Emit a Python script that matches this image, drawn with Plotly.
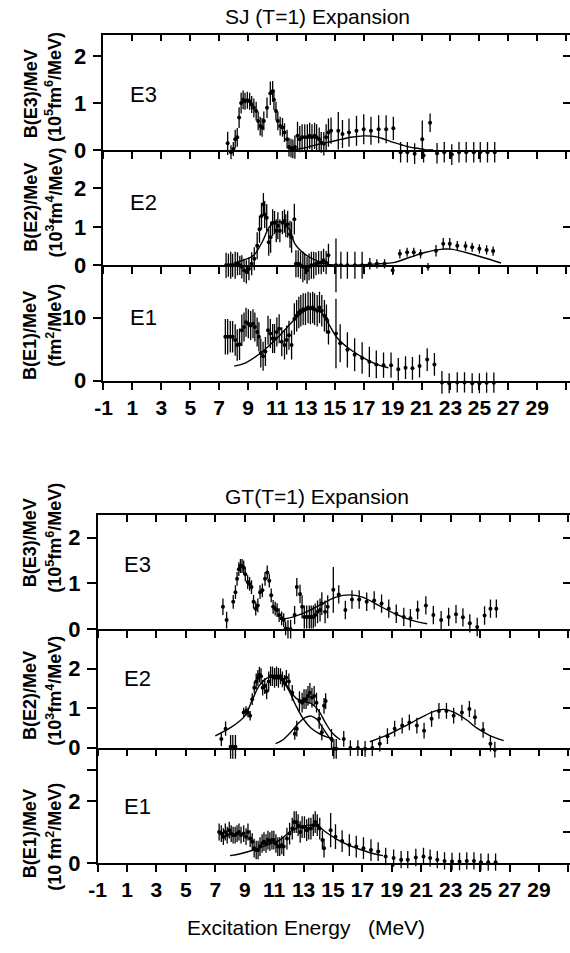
import plotly.graph_objects as go

# ---------------- data ----------------
# SJ (T=1) expansion, E3
sj_e3_E = [7.59, 7.82, 7.98, 8.11, 8.25, 8.38, 8.52, 8.66, 8.79, 8.95,
           9.11, 9.25, 9.40, 9.56, 9.70, 9.84, 9.97, 10.09, 10.31, 10.54,
           10.70, 10.79, 10.93, 11.06, 11.22, 11.38, 11.52, 11.70, 11.83, 11.97,
           12.10, 12.24, 12.42, 12.58, 12.74, 12.92, 13.10, 13.26, 13.42, 13.60,
           13.74, 13.92, 14.06, 14.24, 14.40, 14.56, 14.74, 15.24, 15.53, 15.98,
           16.50, 17.00, 17.50, 18.03, 18.55, 19.05, 19.55, 20.02, 20.52, 21.05,
           21.14, 21.59, 22.07, 22.57, 23.09, 23.59, 24.09, 24.61, 25.06, 25.56, 26.06]
sj_e3_B = [0.14, -0.05, 0.02, 0.23, 0.27, 0.69, 1.00, 1.07, 1.04, 1.06,
           1.04, 0.97, 0.90, 0.83, 0.62, 0.51, 0.48, 0.62, 0.90, 1.21,
           1.25, 1.07, 0.83, 0.62, 0.51, 0.48, 0.37, 0.23, 0.06, 0.04,
           0.02, 0.06, 0.30, 0.23, 0.27, 0.27, 0.27, 0.30, 0.27, 0.30,
           0.27, 0.23, 0.16, 0.13, 0.27, 0.37, 0.41, 0.41, 0.34, 0.37,
           0.41, 0.44, 0.41, 0.44, 0.44, 0.46, -0.05, -0.05, -0.08, 0.23,
           -0.12, 0.58, -0.07, -0.05, -0.10, -0.05, -0.05, -0.05, -0.05, -0.05, -0.05]
sj_e3_err = [0.25, 0.15, 0.15, 0.2, 0.2, 0.22, 0.22, 0.2, 0.18, 0.18,
             0.18, 0.18, 0.2, 0.2, 0.2, 0.2, 0.2, 0.2, 0.22, 0.25,
             0.22, 0.22, 0.2, 0.2, 0.2, 0.2, 0.2, 0.2, 0.2, 0.2,
             0.2, 0.25, 0.3, 0.28, 0.28, 0.28, 0.28, 0.28, 0.28, 0.28,
             0.28, 0.25, 0.22, 0.25, 0.28, 0.3, 0.28, 0.4, 0.3, 0.3,
             0.32, 0.32, 0.3, 0.3, 0.3, 0.25, 0.22, 0.22, 0.22, 0.4,
             0.15, 0.2, 0.22, 0.22, 0.22, 0.22, 0.22, 0.22, 0.22, 0.22, 0.22]
sj_e3_fitE = [12.0, 13.0, 14.0, 14.5, 15.5, 16.1, 17.0, 17.9, 18.5, 19.05, 19.6, 20.2, 20.8, 21.3, 21.8]
sj_e3_fitB = [0.0, 0.05, 0.13, 0.16, 0.23, 0.27, 0.30, 0.28, 0.22, 0.16, 0.11, 0.06, 0.03, 0.0, 0.0]

# SJ, E2
sj_e2_E = [7.48, 7.64, 7.80, 7.93, 8.11, 8.27, 8.43, 8.57, 8.72, 8.88,
           9.06, 9.25, 9.43, 9.63, 9.79, 9.93, 10.06, 10.15, 10.29, 10.43,
           10.56, 10.70, 10.83, 10.95, 11.06, 11.20, 11.38, 11.52, 11.61, 11.74,
           11.90, 12.01, 12.20, 12.31, 12.47, 12.63, 12.79, 12.92, 13.08, 13.22,
           13.38, 13.54, 13.70, 13.88, 14.06, 14.22, 14.40, 14.56, 15.08, 15.42,
           15.87, 16.39, 16.89, 17.42, 17.91, 18.44, 19.00, 19.50, 20.00, 20.46,
           20.93, 21.45, 22.00, 22.50, 22.95, 23.47, 24.04, 24.50, 25.00, 25.50, 25.95]
sj_e2_B = [0, 0, 0, 0, 0, 0.04, 0, -0.04, -0.13, -0.17,
           -0.09, 0.04, 0.17, 0.51, 0.94, 1.28, 1.58, 1.32, 1.24, 0.60,
           0.73, 1.11, 1.11, 0.90, 1.03, 0.90, 1.11, 1.15, 1.03, 1.07,
           0.81, 0.73, 1.20, 0.04, 0.04, 0, -0.04, -0.04, -0.13, -0.04,
           0, 0, 0.04, 0.07, 0.07, 0.13, 0.07, 0.26, 0, 0,
           0, 0, 0, 0.04, 0.04, 0.04, -0.13, 0.30, 0.34, 0.34,
           0.30, -0.04, 0.38, 0.56, 0.56, 0.51, 0.50, 0.47, 0.43, 0.40, 0.37]
sj_e2_err = [0.33, 0.3, 0.35, 0.3, 0.35, 0.3, 0.25, 0.3, 0.3, 0.3,
             0.3, 0.3, 0.3, 0.35, 0.35, 0.35, 0.3, 0.35, 0.35, 0.35,
             0.4, 0.35, 0.3, 0.3, 0.35, 0.3, 0.3, 0.3, 0.3, 0.35,
             0.35, 0.4, 0.4, 0.35, 0.35, 0.35, 0.4, 0.35, 0.35, 0.35,
             0.35, 0.35, 0.3, 0.3, 0.3, 0.3, 0.3, 0.3, 0.7, 0.35,
             0.35, 0.35, 0.35, 0.15, 0.12, 0.12, 0.12, 0.12, 0.12, 0.12,
             0.12, 0.1, 0.15, 0.15, 0.15, 0.12, 0.12, 0.12, 0.12, 0.12, 0.12]
sj_e2_fitE = [8.0, 8.4, 9.0, 9.4, 9.97, 10.54, 11.1, 11.5, 11.9, 12.24, 12.7, 13.26, 13.94, 14.5,
              16.0, 18.1, 19.05, 20.2, 21.3, 22.45, 23.0, 24.0, 25.2, 26.5]
sj_e2_fitB = [0.05, 0.10, 0.18, 0.26, 0.60, 1.03, 1.13, 1.10, 0.90, 0.56, 0.36, 0.21, 0.09, 0.02,
              0.0, 0.04, 0.07, 0.21, 0.34, 0.42, 0.42, 0.34, 0.21, 0.06]

# SJ, E1
sj_e1_E = [7.43, 7.59, 7.77, 7.93, 8.11, 8.25, 8.41, 8.57, 8.72, 8.86,
           9.02, 9.18, 9.34, 9.47, 9.63, 9.75, 9.88, 10.04, 10.20, 10.38,
           10.54, 10.70, 10.83, 10.99, 11.15, 11.33, 11.52, 11.67, 11.83, 12.01,
           12.20, 12.36, 12.51, 12.65, 12.81, 12.97, 13.15, 13.31, 13.47, 13.60,
           13.78, 13.94, 14.10, 14.28, 14.42, 14.56, 15.08, 15.37, 15.87, 16.37,
           16.89, 17.39, 17.87, 18.37, 18.89, 19.39, 19.89, 20.37, 20.86, 21.39,
           21.89, 22.41, 22.91, 23.47, 23.97, 24.50, 25.00, 25.50, 26.00]
sj_e1_B = [6.96, 6.96, 6.96, 6.96, 6.44, 5.67, 5.77, 7.99, 8.5, 9.28,
           9.02, 8.76, 9.02, 8.5, 7.73, 6.96, 4.38, 3.87, 4.64, 7.99,
           7.47, 6.7, 6.7, 7.73, 8.25, 6.19, 5.67, 6.44, 7.22, 5.67,
           9.79, 10.3, 10.82, 11.08, 11.34, 11.34, 11.6, 11.44, 11.6, 11.34,
           11.08, 11.6, 11.08, 10.3, 9.79, 7.73, 7.47, 5.93, 4.9, 4.12,
           3.61, 2.99, 2.58, 2.47, 2.47, 1.8, 2.06, 1.96, 2.32, 3.35,
           2.58, -0.26, -0.4, -0.26, -0.26, -0.4, -0.4, -0.3, -0.3]
sj_e1_err = [2.8, 2.8, 2.5, 2.5, 2.5, 2.5, 2.5, 2.5, 2.3, 2.3,
             2.3, 2.3, 2.3, 2.3, 2.3, 2.3, 2.3, 2.3, 2.3, 2.3,
             2.3, 2.3, 2.3, 2.3, 2.3, 2.3, 2.3, 2.3, 2.3, 2.3,
             2.5, 2.5, 2.5, 2.5, 2.5, 2.5, 2.5, 2.5, 2.5, 2.5,
             2.5, 2.5, 2.5, 2.5, 2.3, 2.0, 5.5, 3.0, 2.8, 2.6,
             2.5, 2.4, 2.2, 2.0, 2.0, 1.8, 1.8, 1.8, 1.8, 1.8,
             1.8, 1.8, 1.6, 1.6, 1.6, 1.6, 1.6, 1.6, 1.6]
sj_e1_fitE = [8.04, 8.84, 10.0, 11.1, 12.24, 12.92, 13.5, 14.06, 14.5, 15.2, 16.1, 17.2, 18.1, 18.7]
sj_e1_fitB = [2.32, 2.84, 4.64, 6.96, 9.79, 11.08, 11.44, 10.82, 9.28, 6.7, 4.9, 3.35, 2.42, 2.06]

# GT (T=1) expansion, E3
gt_e3_E = [7.52, 7.77, 8.22, 8.37, 8.48, 8.60, 8.71, 8.82, 8.93, 9.04,
           9.20, 9.33, 9.46, 9.60, 9.75, 9.89, 10.04, 10.20, 10.38, 10.53,
           10.67, 10.80, 10.93, 11.07, 11.20, 11.34, 11.51, 11.65, 11.78, 11.94,
           12.12, 12.39, 12.54, 12.76, 12.90, 13.05, 13.21, 13.39, 13.52, 13.66,
           13.79, 13.95, 14.12, 14.24, 14.46, 14.64, 15.02, 15.39, 15.84, 16.29,
           16.78, 17.29, 17.80, 18.30, 18.79, 19.30, 19.81, 20.26, 20.75, 21.31,
           21.82, 22.35, 22.86, 23.36, 23.83, 24.30, 24.80, 25.30, 25.70, 26.10]
gt_e3_B = [0.49, 0.2, 0.6, 0.81, 1.1, 1.31, 1.38, 1.38, 1.35, 1.2,
           1.03, 0.99, 0.92, 0.6, 0.45, 0.52, 0.81, 0.85, 1.1, 1.24,
           1.06, 0.74, 0.49, 0.45, 0.42, 0.31, 0.24, 0.2, 0.02, 0.0,
           0.0, 0.31, 0.92, 0.77, 0.49, 0.27, 0.27, 0.27, 0.27, 0.27,
           0.31, 0.38, 0.42, 0.56, 0.38, 0.49, 0.86, 0.76, 0.42, 0.65,
           0.65, 0.6, 0.63, 0.56, 0.45, 0.34, 0.27, 0.24, 0.42, 0.52,
           0.31, 0.2, 0.27, 0.33, 0.26, 0.13, 0.05, 0.3, 0.45, 0.45]
gt_e3_err = [0.18, 0.18, 0.15, 0.15, 0.15, 0.15, 0.15, 0.15, 0.15, 0.15,
             0.15, 0.15, 0.15, 0.15, 0.15, 0.15, 0.15, 0.15, 0.15, 0.15,
             0.15, 0.15, 0.15, 0.15, 0.15, 0.15, 0.15, 0.15, 0.15, 0.2,
             0.2, 0.2, 0.2, 0.2, 0.25, 0.25, 0.25, 0.25, 0.25, 0.25,
             0.25, 0.25, 0.25, 0.25, 0.25, 0.25, 0.5, 0.2, 0.2, 0.2,
             0.2, 0.2, 0.2, 0.2, 0.2, 0.2, 0.2, 0.2, 0.2, 0.2,
             0.2, 0.2, 0.2, 0.2, 0.2, 0.2, 0.2, 0.2, 0.2, 0.2]
gt_e3_fitE = [11.4, 12.05, 13.2, 14.3, 15.2, 16.1, 17.0, 18.1, 19.2, 20.3, 21.4]
gt_e3_fitB = [0.22, 0.25, 0.38, 0.56, 0.70, 0.75, 0.70, 0.52, 0.34, 0.20, 0.12]

# GT, E2
gt_e2_E = [7.41, 7.70, 8.04, 8.19, 8.37, 8.93, 9.09, 9.22, 9.37, 9.51,
           9.65, 9.78, 9.89, 10.00, 10.11, 10.22, 10.36, 10.49, 10.63, 10.76,
           10.89, 11.03, 11.16, 11.29, 11.43, 11.56, 11.70, 11.83, 12.00, 12.23,
           12.40, 12.54, 12.72, 12.90, 13.03, 13.17, 13.30, 13.43, 13.57, 13.72,
           13.88, 14.06, 14.24, 14.39, 14.50, 14.90, 15.06, 15.22, 15.73, 16.18,
           16.69, 17.18, 17.67, 18.18, 18.70, 19.19, 19.70, 20.19, 20.70, 21.19,
           21.70, 22.20, 22.71, 23.20, 23.76, 24.27, 24.65, 25.20, 25.70, 26.00]
gt_e2_B = [0.22, 0.48, 0.02, 0.02, 0.02, 0.89, 0.93, 0.89, 0.81, 1.23,
           1.52, 1.68, 1.77, 1.85, 1.81, 1.52, 1.56, 1.43, 1.68, 1.81,
           1.81, 1.77, 1.81, 1.77, 1.81, 1.73, 1.64, 1.77, 1.68, 1.39,
           0.35, 0.48, 1.18, 1.14, 1.23, 1.23, 1.31, 1.39, 1.27, 1.31,
           1.14, 0.73, 0.39, 1.06, 1.18, 0.22, -0.03, -0.03, 0.22, -0.01,
           -0.01, -0.03, -0.01, 0.1, 0.29, 0.48, 0.56, 0.64, 0.56, 0.43,
           0.73, 0.93, 0.93, 0.81, 0.89, 0.98, 0.77, 0.45, 0.1, -0.05]
gt_e2_err = [0.18, 0.18, 0.3, 0.3, 0.3, 0.12, 0.12, 0.12, 0.12, 0.15,
             0.15, 0.2, 0.2, 0.2, 0.2, 0.2, 0.2, 0.2, 0.25, 0.25,
             0.25, 0.25, 0.25, 0.25, 0.2, 0.2, 0.2, 0.2, 0.2, 0.2,
             0.15, 0.2, 0.25, 0.25, 0.25, 0.25, 0.25, 0.25, 0.25, 0.25,
             0.25, 0.25, 0.2, 0.2, 0.2, 0.25, 0.25, 0.25, 0.2, 0.2,
             0.2, 0.2, 0.2, 0.2, 0.2, 0.2, 0.2, 0.2, 0.2, 0.2,
             0.2, 0.2, 0.2, 0.2, 0.2, 0.2, 0.2, 0.2, 0.2, 0.2]
gt_e2_fit1E = [7.0, 8.0, 9.0, 9.5, 10.0, 10.5, 11.0, 11.5, 12.0, 12.5, 13.0, 13.5, 14.0, 14.5, 15.0]
gt_e2_fit1B = [0.30, 0.50, 0.80, 1.20, 1.58, 1.76, 1.80, 1.72, 1.45, 1.05, 0.72, 0.50, 0.37, 0.28, 0.22]
gt_e2_fit2E = [11.1, 11.6, 12.1, 12.6, 13.1, 13.5, 13.9, 14.3, 14.7, 15.0]
gt_e2_fit2B = [0.10, 0.20, 0.38, 0.60, 0.76, 0.80, 0.72, 0.50, 0.28, 0.15]
gt_e2_sumE = [11.0, 11.5, 12.0, 12.5, 13.0, 13.5, 14.0, 14.5, 15.0, 15.5]
gt_e2_sumB = [1.82, 1.75, 1.50, 1.25, 1.17, 1.12, 0.95, 0.62, 0.35, 0.20]
gt_e2_fit3E = [17.5, 18.74, 19.86, 20.97, 21.86, 22.53, 23.2, 24.09, 24.76, 25.6, 26.6]
gt_e2_fit3B = [0.15, 0.33, 0.54, 0.76, 0.92, 0.97, 0.90, 0.70, 0.50, 0.32, 0.18]

# GT, E1
gt_e1_E = [7.26, 7.41, 7.55, 7.68, 7.81, 7.95, 8.08, 8.21, 8.35, 8.48,
           8.61, 8.75, 8.93, 9.09, 9.22, 9.37, 9.51, 9.64, 9.78, 9.91,
           10.04, 10.18, 10.31, 10.45, 10.58, 10.71, 10.85, 10.98, 11.12, 11.25,
           11.38, 11.52, 11.65, 11.87, 12.05, 12.23, 12.36, 12.50, 12.63, 12.77,
           12.90, 13.06, 13.21, 13.35, 13.50, 13.66, 13.79, 13.93, 14.10, 14.28,
           14.39, 14.84, 15.17, 15.62, 16.11, 16.58, 17.07, 17.58, 18.07, 18.58,
           19.12, 19.63, 20.08, 20.63, 21.15, 21.60, 22.09, 22.58, 23.09, 23.60,
           24.09, 24.58, 25.05, 25.55, 26.05]
gt_e1_B = [1.0, 0.95, 0.85, 1.0, 0.9, 1.06, 0.95, 0.9, 0.9, 0.95,
           1.0, 0.9, 0.95, 0.85, 1.0, 0.79, 0.69, 0.48, 0.42, 0.42,
           0.53, 0.63, 0.69, 0.63, 0.74, 0.69, 0.74, 0.74, 0.63, 0.53,
           0.53, 0.58, 0.53, 0.79, 0.95, 1.11, 1.32, 1.32, 1.22, 1.0,
           1.16, 1.16, 1.06, 1.11, 1.11, 1.22, 1.32, 1.22, 1.11, 0.74,
           0.48, 1.06, 0.85, 0.71, 0.58, 0.53, 0.48, 0.42, 0.37, 0.21,
           0.16, 0.11, 0.11, 0.18, 0.21, 0.16, 0.11, 0.07, 0.05, 0.05,
           0.07, 0.07, 0.03, 0.03, 0.03]
gt_e1_err = [0.27, 0.27, 0.27, 0.27, 0.27, 0.27, 0.27, 0.27, 0.27, 0.27,
             0.27, 0.27, 0.27, 0.27, 0.27, 0.27, 0.27, 0.3, 0.3, 0.3,
             0.3, 0.3, 0.3, 0.3, 0.3, 0.3, 0.3, 0.3, 0.3, 0.3,
             0.3, 0.3, 0.3, 0.35, 0.35, 0.35, 0.35, 0.35, 0.35, 0.35,
             0.35, 0.35, 0.35, 0.35, 0.35, 0.35, 0.35, 0.35, 0.35, 0.3,
             0.3, 0.55, 0.4, 0.35, 0.35, 0.35, 0.35, 0.35, 0.3, 0.28,
             0.28, 0.28, 0.28, 0.28, 0.28, 0.28, 0.28, 0.28, 0.28, 0.28,
             0.28, 0.28, 0.28, 0.28, 0.28]
gt_e1_fitE = [8.0, 8.7, 9.6, 10.5, 11.38, 12.05, 12.72, 13.39, 13.95, 14.5, 15.17, 16.06, 16.95, 17.84, 18.4]
gt_e1_fitB = [0.24, 0.30, 0.42, 0.58, 0.74, 1.00, 1.16, 1.22, 1.20, 1.00, 0.79, 0.58, 0.42, 0.29, 0.24]

x_tick_vals = list(range(-1, 32, 2))
x_tick_text = [str(v) if v <= 29 else "" for v in x_tick_vals]

group_titles = ["SJ (T=1) Expansion", "GT(T=1) Expansion"]
panel_names = ["E3", "E2", "E1", "E3", "E2", "E1"]
ylab1 = ["B(E3)/MeV", "B(E2)/MeV", "B(E1)/MeV", "B(E3)/MeV", "B(E2)/MeV", "B(E1)/MeV"]
ylab2 = ["(10<sup>5</sup>fm<sup>6</sup>/MeV)", "(10<sup>3</sup>fm<sup>4</sup>/MeV)", "(fm<sup>2</sup>/MeV)",
         "(10<sup>5</sup>fm<sup>6</sup>/MeV)", "(10<sup>3</sup>fm<sup>4</sup>/MeV)", "(10 fm<sup>2</sup>/MeV)"]
x_title = "Excitation Energy\u00a0\u00a0\u00a0(MeV)"

# ---------------- layout geometry (pixels) ----------------
W, H = 570, 953
def fx(px):
    return px / W
def fy(py):
    return 1 - py / H

FONT = "Liberation Sans, Arial, sans-serif"
# per panel: zero line px, top px, px per unit, left px, px per MeV, extra px below zero for bars,
# panel-label centre px
panels = [
    dict(zero=152, top=35, ppu=47.5, left=96, ppm=14.69, ext=30, lab=96,
         tv=[0, 1, 2], tt=["0", "1", "2"], rt=[1, 2]),
    dict(zero=269, top=152, ppu=39.0, left=96, ppm=14.69, ext=30, lab=205,
         tv=[0, 1, 2], tt=["0", "1", "2"], rt=[1]),
    dict(zero=386, top=269, ppu=6.4, left=96, ppm=14.69, ext=25, lab=322,
         tv=[0, 10], tt=["0", "10"], rt=[10]),
    dict(zero=638, top=522, ppu=46.5, left=90, ppm=14.95, ext=30, lab=572,
         tv=[0, 1, 2], tt=["0", "1", "2"], rt=[1, 2]),
    dict(zero=758, top=638, ppu=40.0, left=90, ppm=14.95, ext=30, lab=688,
         tv=[0, 1, 2], tt=["0", "1", "2"], rt=[1, 2]),
    dict(zero=875, top=758, ppu=31.5, left=90, ppm=14.95, ext=25, lab=818,
         tv=[0, 2, 3], tt=["0", "2", ""], rt=[1, 2, 3]),
]

series = [
    (sj_e3_E, sj_e3_B, sj_e3_err, [(sj_e3_fitE, sj_e3_fitB)]),
    (sj_e2_E, sj_e2_B, sj_e2_err, [(sj_e2_fitE, sj_e2_fitB)]),
    (sj_e1_E, sj_e1_B, sj_e1_err, [(sj_e1_fitE, sj_e1_fitB)]),
    (gt_e3_E, gt_e3_B, gt_e3_err, [(gt_e3_fitE, gt_e3_fitB)]),
    (gt_e2_E, gt_e2_B, gt_e2_err, [(gt_e2_fit1E, gt_e2_fit1B), (gt_e2_fit2E, gt_e2_fit2B),
                                   (gt_e2_sumE, gt_e2_sumB), (gt_e2_fit3E, gt_e2_fit3B)]),
    (gt_e1_E, gt_e1_B, gt_e1_err, [(gt_e1_fitE, gt_e1_fitB)]),
]

fig = go.Figure()
layout = dict(width=W, height=H, margin=dict(l=0, r=0, t=0, b=0),
              paper_bgcolor="white", plot_bgcolor="rgba(0,0,0,0)", showlegend=False,
              font=dict(family=FONT, color="black"), annotations=[])
ann = layout["annotations"]

for i, p in enumerate(panels):
    n = i + 1
    xs = "" if n == 1 else str(n)
    xr = [-1, -1 + (W - p["left"]) / p["ppm"]]
    ytop = (p["zero"] - p["top"]) / p["ppu"]
    last = n in (3, 6)
    layout["xaxis" + xs] = dict(
        domain=[fx(p["left"]), 1], anchor="y" + xs, range=xr,
        showgrid=False, zeroline=False, showline=True, linecolor="black", linewidth=1.6,
        ticks="outside", ticklen=7, tickwidth=1.6, tickcolor="black",
        tickvals=x_tick_vals, ticktext=x_tick_text, showticklabels=last, tickangle=0,
        tickfont=dict(family=FONT, size=21, weight="bold"))
    # visible framed y axis
    layout["yaxis" + xs] = dict(
        domain=[fy(p["zero"]), fy(p["top"])], anchor="x" + xs, range=[0, ytop],
        showgrid=False, zeroline=False, showline=True, linecolor="black", linewidth=1.6,
        ticks="outside", ticklen=9, tickwidth=1.6, tickcolor="black",
        tickvals=p["tv"], ticktext=p["tt"], ticklabelstandoff=2,
        tickfont=dict(family=FONT, size=22, weight="bold"))
    # right-hand inward ticks
    layout["yaxis" + str(n + 6)] = dict(
        overlaying="y" + xs, side="right", anchor="x" + xs, range=[0, ytop],
        showgrid=False, zeroline=False, showline=False,
        ticks="inside", ticklen=7, tickwidth=1.6, tickcolor="black",
        tickvals=p["rt"], showticklabels=False)
    # hidden data axis, extended below zero so that error bars are not cut
    ext_units = p["ext"] / p["ppu"]
    yd = "y" + str(n + 12)
    layout["yaxis" + str(n + 12)] = dict(
        domain=[fy(p["zero"] + p["ext"]), fy(p["top"])], anchor="x" + xs,
        range=[-ext_units, ytop], visible=False, showgrid=False, zeroline=False)

    # empty traces so that the framed axes get their own subplots
    fig.add_trace(go.Scatter(x=[None], y=[None], mode="markers", xaxis="x" + xs, yaxis="y" + xs,
                             hoverinfo="skip"))
    fig.add_trace(go.Scatter(x=[None], y=[None], mode="markers", xaxis="x" + xs, yaxis="y" + str(n + 6),
                             hoverinfo="skip"))

    E, B, err, fits = series[i]
    for fe, fb in fits:
        fig.add_trace(go.Scatter(x=fe, y=fb, mode="lines", xaxis="x" + xs, yaxis=yd,
                                 line=dict(color="black", width=1.4, shape="spline", smoothing=1.0),
                                 hoverinfo="skip"))
    fig.add_trace(go.Scatter(x=E, y=B, mode="markers", xaxis="x" + xs, yaxis=yd,
                             cliponaxis=False,
                             marker=dict(color="black", size=4),
                             error_y=dict(type="data", array=err, visible=True,
                                          color="black", thickness=1.3, width=0)))
    # panel label
    ann.append(dict(
        x=fx(p["left"] + 41), y=fy(p["lab"]),
        xref="paper", yref="paper", text=panel_names[i], showarrow=False,
        font=dict(family=FONT, size=22), xanchor="center", yanchor="middle"))

# top frame axes with inward ticks
for n_top, base in ((7, 1), (8, 4)):
    p = panels[base - 1]
    bs = "" if base == 1 else str(base)
    layout["xaxis" + str(n_top)] = dict(
        overlaying="x" + bs, side="top", anchor="y" + bs,
        range=[-1, -1 + (W - p["left"]) / p["ppm"]],
        showgrid=False, zeroline=False, showline=True, linecolor="black", linewidth=1.6,
        ticks="inside", ticklen=7, tickwidth=1.6, tickcolor="black",
        tickvals=x_tick_vals, showticklabels=False)
    fig.add_trace(go.Scatter(x=[None], y=[None], mode="markers", xaxis="x" + str(n_top), yaxis="y" + bs,
                             hoverinfo="skip"))

# y-axis labels
ycent1 = [95, 210, 340, 550, 705, 845]
ycent2 = [88, 205, 330, 545, 700, 848]
for i in range(6):
    ann.append(dict(x=fx(22), y=fy(ycent1[i]), xref="paper", yref="paper", text=ylab1[i],
                    textangle=-90, showarrow=False, xanchor="center", yanchor="middle",
                    font=dict(family=FONT, size=18, weight="bold")))
    ann.append(dict(x=fx(46), y=fy(ycent2[i]), xref="paper", yref="paper", text=ylab2[i],
                    textangle=-90, showarrow=False, xanchor="center", yanchor="middle",
                    font=dict(family=FONT, size=18, weight="bold")))
# group titles
for t, py in zip(group_titles, (17, 503)):
    ann.append(dict(x=fx(313), y=fy(py), xref="paper", yref="paper", text=t, showarrow=False,
                    xanchor="center", yanchor="middle", font=dict(family=FONT, size=21)))
# x-axis title
ann.append(dict(x=fx(302), y=fy(940), xref="paper", yref="paper", text=x_title, showarrow=False,
                xanchor="center", yanchor="middle", font=dict(family=FONT, size=21)))

fig.update_layout(**layout)
fig.write_html("out.html")
